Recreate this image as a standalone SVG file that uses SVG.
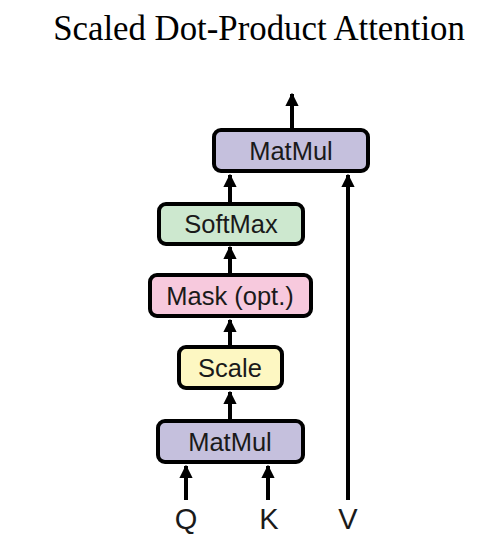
<svg xmlns="http://www.w3.org/2000/svg" width="491" height="549" viewBox="0 0 491 549">
<style>
.title{font-family:"Liberation Serif","Times New Roman",serif;font-size:34.8px;fill:#000}
.box{stroke:#000;stroke-width:4}
.lbl{font-family:"Liberation Sans",Arial,sans-serif;font-size:25.5px;fill:#1a1a1a;text-anchor:middle}
.io{font-family:"Liberation Sans",Arial,sans-serif;font-size:29px;fill:#1a1a1a;text-anchor:middle}
.conn{stroke:#000;stroke-width:4;fill:none}
</style>
<defs>
<marker id="ah" viewBox="0 0 10 10" refX="9" refY="5" markerWidth="3.3" markerHeight="3.3" markerUnits="strokeWidth" orient="auto">
<path d="M0,0 L10,5 L0,10 z" fill="#000"/>
</marker>
</defs>
<rect width="491" height="549" fill="#fff"/>
<text class="title" x="259" y="40" text-anchor="middle">Scaled Dot-Product Attention</text>
<g id="connectors">
<line class="conn" x1="292" y1="128" x2="292" y2="94" marker-end="url(#ah)"/>
<line class="conn" x1="230" y1="202" x2="230" y2="175" marker-end="url(#ah)"/>
<line class="conn" x1="348" y1="500" x2="348" y2="175" marker-end="url(#ah)"/>
<line class="conn" x1="230" y1="273" x2="230" y2="247" marker-end="url(#ah)"/>
<line class="conn" x1="230" y1="345" x2="230" y2="320" marker-end="url(#ah)"/>
<line class="conn" x1="230" y1="419" x2="230" y2="392" marker-end="url(#ah)"/>
<line class="conn" x1="186" y1="500" x2="186" y2="466" marker-end="url(#ah)"/>
<line class="conn" x1="268" y1="500" x2="268" y2="466" marker-end="url(#ah)"/>
</g>
<g id="matmul-top">
<rect class="box" x="214" y="130" width="154" height="41" rx="7" fill="#c5c0dd"/>
<text class="lbl" x="291" y="160">MatMul</text>
</g>
<g id="softmax">
<rect class="box" x="159" y="204" width="144" height="40" rx="7" fill="#cde8cf"/>
<text class="lbl" x="231" y="233">SoftMax</text>
</g>
<g id="mask">
<rect class="box" x="150" y="275" width="161" height="41" rx="7" fill="#f7c9dd"/>
<text class="lbl" x="230" y="305">Mask (opt.)</text>
</g>
<g id="scale">
<rect class="box" x="179" y="347" width="103" height="41" rx="7" fill="#fdf7c2"/>
<text class="lbl" x="230" y="377">Scale</text>
</g>
<g id="matmul-bottom">
<rect class="box" x="158" y="421" width="145" height="41" rx="7" fill="#c5c0dd"/>
<text class="lbl" x="230" y="451">MatMul</text>
</g>
<g id="inputs">
<text class="io" x="186" y="529">Q</text>
<text class="io" x="269" y="529">K</text>
<text class="io" x="348" y="529">V</text>
</g>
</svg>
